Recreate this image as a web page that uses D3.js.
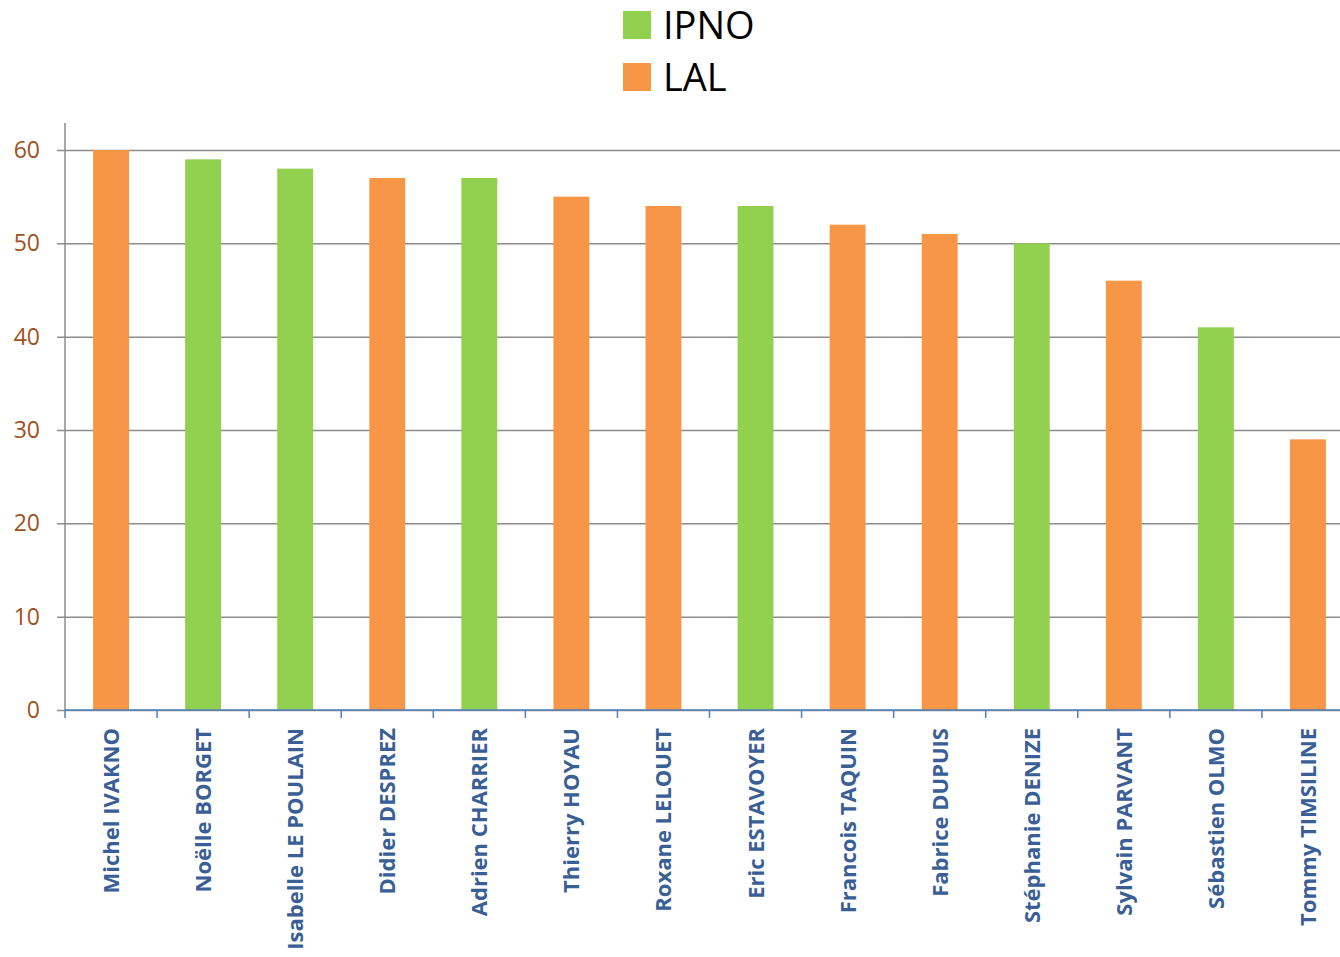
<!DOCTYPE html>
<html>
<head>
<meta charset="utf-8">
<script src="https://cdn.jsdelivr.net/npm/d3@7"></script>
<style>
  body { margin: 0; background: #fff; overflow: hidden; }
</style>
</head>
<body>
<div id="chart"></div>
<script>
// Data
var names = ["Michel IVAKNO", "Noëlle BORGET", "Isabelle LE POULAIN", "Didier DESPREZ",
    "Adrien CHARRIER", "Thierry HOYAU", "Roxane LELOUET", "Eric ESTAVOYER",
    "Francois TAQUIN", "Fabrice DUPUIS", "Stéphanie DENIZE", "Sylvain PARVANT",
    "Sébastien OLMO", "Tommy TIMSILINE"];
var values = [60, 59, 58, 57, 57, 55, 54, 54, 52, 51, 50, 46, 41, 29];
var labs = ["LAL", "IPNO", "IPNO", "LAL", "IPNO", "LAL", "LAL", "IPNO",
    "LAL", "LAL", "IPNO", "LAL", "IPNO", "LAL"];
var groups = ["IPNO", "LAL"];
var colors = ["#92d050", "#f79646"];
var yTicks = [0, 10, 20, 30, 40, 50, 60];

var data = names.map(function (n, i) {
    return { name: n, value: values[i], lab: labs[i] };
});

var W = 1340, H = 957;
var plotLeft = 65, plotTop = 150, plotBottom = 710, plotRight = 1354;

var svg = d3.select("#chart")
    .append("svg")
    .attr("width", W)
    .attr("height", H);

var color = d3.scaleOrdinal().domain(groups).range(colors);

var xScale = d3.scaleBand()
    .domain(names)
    .range([plotLeft, plotRight])
    .paddingInner(0.61)
    .paddingOuter(0.305);

var yScale = d3.scaleLinear()
    .domain([0, 60])
    .range([plotBottom, plotTop]);

// gridlines + y axis
var yAxis = svg.append("g")
    .attr("transform", "translate(" + plotLeft + ",0)")
    .call(d3.axisLeft(yScale).tickValues(yTicks).tickSize(8).tickPadding(17));
yAxis.select(".domain").remove();
yAxis.selectAll(".tick line")
    .attr("x2", W)
    .attr("x1", -8)
    .attr("stroke", "#8c8c8c")
    .attr("stroke-width", 1.5);
yAxis.selectAll(".tick text")
    .attr("fill", "#a0521c")
    .style("font-family", "'Open Sans', sans-serif")
    .style("font-size", "23px");

svg.append("line")
    .attr("x1", plotLeft).attr("x2", plotLeft)
    .attr("y1", 123).attr("y2", plotBottom)
    .attr("stroke", "#8c8c8c")
    .attr("stroke-width", 1.5);

// bars
svg.selectAll("rect.bar")
    .data(data)
    .enter().append("rect")
    .attr("class", "bar")
    .attr("x", function (d) { return xScale(d.name); })
    .attr("width", xScale.bandwidth())
    .attr("y", function (d) { return yScale(d.value); })
    .attr("height", function (d) { return yScale(0) - yScale(d.value); })
    .attr("fill", function (d) { return color(d.lab); });

// x axis
var step = xScale.step();
var xAxis = svg.append("g")
    .attr("transform", "translate(0," + plotBottom + ")");
xAxis.append("line")
    .attr("x1", plotLeft).attr("x2", W)
    .attr("stroke", "#4f81bd")
    .attr("stroke-width", 1.5);
xAxis.selectAll("line.tk")
    .data(d3.range(names.length + 1))
    .enter().append("line")
    .attr("class", "tk")
    .attr("x1", function (i) { return plotLeft + i * step; })
    .attr("x2", function (i) { return plotLeft + i * step; })
    .attr("y1", 0).attr("y2", 8)
    .attr("stroke", "#4f81bd")
    .attr("stroke-width", 1.5);
xAxis.selectAll("text")
    .data(names)
    .enter().append("text")
    .attr("transform", function (d) {
        return "translate(" + (xScale(d) + xScale.bandwidth() / 2 + 8) + ",18) rotate(-90)";
    })
    .attr("text-anchor", "end")
    .attr("fill", "#3a5f96")
    .style("font-family", "'Open Sans', sans-serif")
    .style("font-weight", "bold")
    .style("font-size", "22px")
    .text(function (d) { return d; });

// legend
var legend = svg.append("g");
var li = legend.selectAll("g")
    .data(groups)
    .enter().append("g")
    .attr("transform", function (d, i) { return "translate(623," + (11 + i * 52) + ")"; });
li.append("rect")
    .attr("width", 28).attr("height", 28)
    .attr("fill", function (d) { return color(d); });
li.append("text")
    .attr("x", 40).attr("y", 28)
    .attr("fill", "#000")
    .style("font-family", "'Open Sans', sans-serif")
    .style("font-size", "38px")
    .text(function (d) { return d; });
</script>
</body>
</html>
